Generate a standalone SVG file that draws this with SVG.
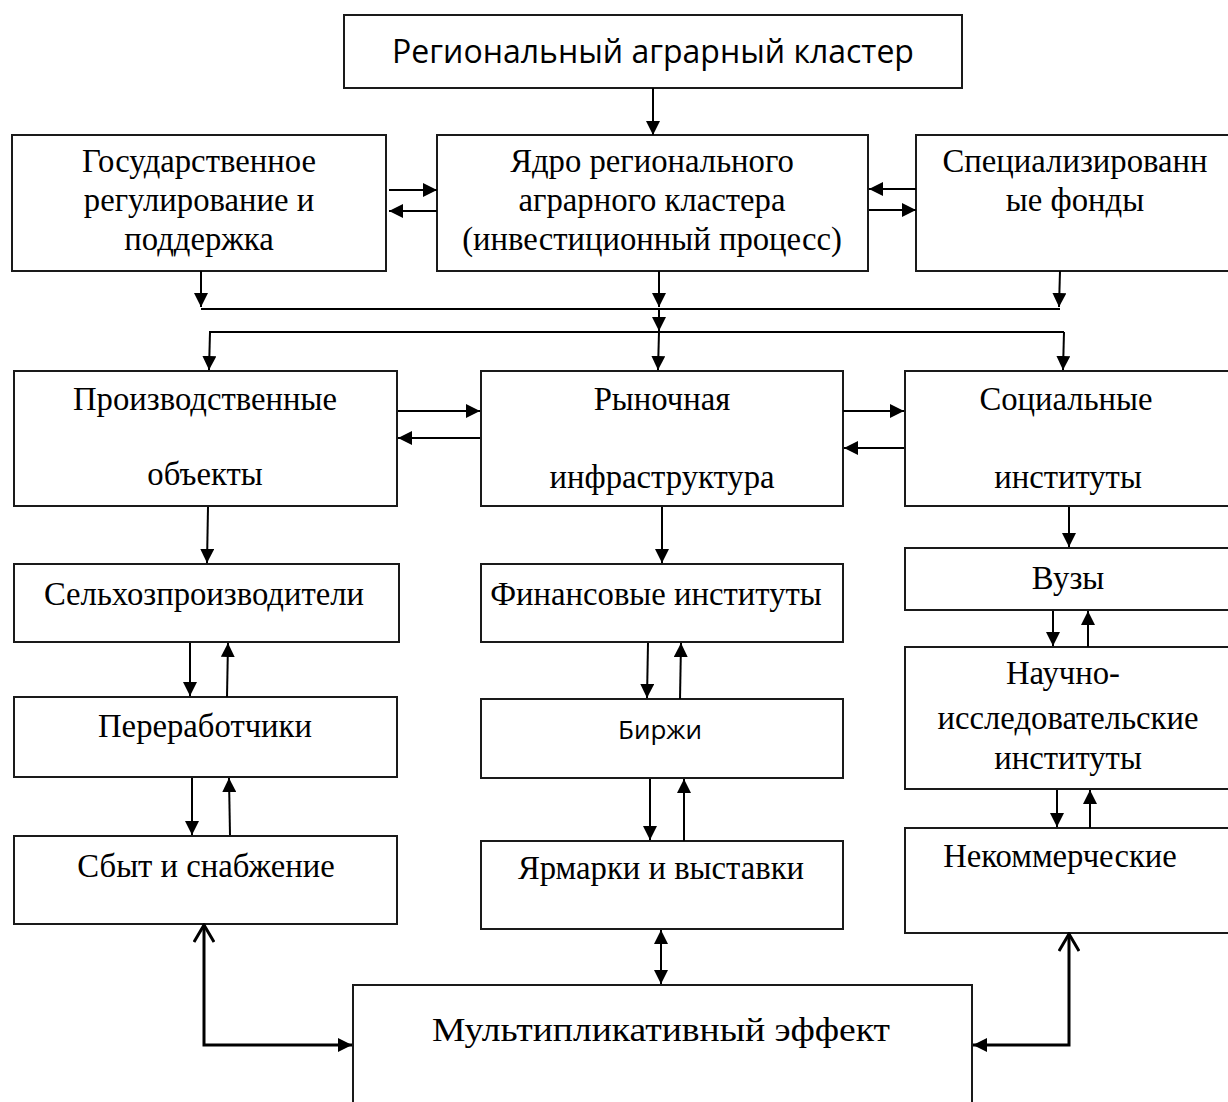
<svg xmlns="http://www.w3.org/2000/svg" width="1228" height="1102" viewBox="0 0 1228 1102">
<defs>
<style>
.box{fill:#fff;stroke:#1a1a1a;stroke-width:2}
.t{font-family:"Liberation Serif","Times New Roman",serif;font-size:32.7px;fill:#000;text-anchor:middle}
.s{font-family:"Open Sans","Liberation Sans",sans-serif;fill:#000;text-anchor:middle}
.c{fill:none;stroke:#000;stroke-width:2}
.ct{fill:none;stroke:#000;stroke-width:3}
</style>
<marker id="a" markerUnits="userSpaceOnUse" markerWidth="14" markerHeight="14" viewBox="0 0 14 14" refX="14" refY="7" orient="auto"><path d="M0,0 L14,7 L0,14 Z" fill="#000"/></marker>
<marker id="as" markerUnits="userSpaceOnUse" markerWidth="14" markerHeight="14" viewBox="0 0 14 14" refX="14" refY="7" orient="auto-start-reverse"><path d="M0,0 L14,7 L0,14 Z" fill="#000"/></marker>
<marker id="o" markerUnits="userSpaceOnUse" markerWidth="20" markerHeight="22" viewBox="0 0 20 22" refX="18" refY="11" orient="auto-start-reverse"><path d="M1,1 L18,11 L1,21" fill="none" stroke="#000" stroke-width="3"/></marker>
</defs>
<rect width="1228" height="1102" fill="#fff"/>

<g id="n-cluster"><rect class="box" x="344" y="15" width="618" height="73"/><text class="s" x="653" y="63" font-size="32">Региональный аграрный кластер</text></g>
<g id="n-gos"><rect class="box" x="12" y="135" width="374" height="136"/><text class="t" x="199" y="172">Государственное</text><text class="t" x="199" y="211">регулирование и</text><text class="t" x="199" y="250">поддержка</text></g>
<g id="n-core"><rect class="box" x="437" y="135" width="431" height="136"/><text class="t" x="652" y="172">Ядро регионального</text><text class="t" x="652" y="211">аграрного кластера</text><text class="t" x="652" y="250">(инвестиционный процесс)</text></g>
<g id="n-funds"><rect class="box" x="916" y="135" width="330" height="136"/><text class="t" x="1075" y="172">Специализированн</text><text class="t" x="1075" y="211">ые фонды</text></g>

<g id="n-prod"><rect class="box" x="14" y="371" width="383" height="135"/><text class="t" x="205" y="410">Производственные</text><text class="t" x="205" y="485">объекты</text></g>
<g id="n-market"><rect class="box" x="481" y="371" width="362" height="135"/><text class="t" x="662" y="410">Рыночная</text><text class="t" x="662" y="488">инфраструктура</text></g>
<g id="n-social"><rect class="box" x="905" y="371" width="340" height="135"/><text class="t" x="1066" y="410">Социальные</text><text class="t" x="1068" y="488">институты</text></g>

<g id="n-sel"><rect class="box" x="14" y="564" width="385" height="78"/><text class="t" x="204" y="605">Сельхозпроизводители</text></g>
<g id="n-fin"><rect class="box" x="481" y="564" width="362" height="78"/><text class="t" x="656" y="605">Финансовые институты</text></g>
<g id="n-vuz"><rect class="box" x="905" y="548" width="340" height="62"/><text class="t" x="1068" y="589">Вузы</text></g>

<g id="n-pererab"><rect class="box" x="14" y="697" width="383" height="80"/><text class="t" x="205" y="737">Переработчики</text></g>
<g id="n-birzhi"><rect class="box" x="481" y="699" width="362" height="79"/><text class="s" x="660" y="739" font-size="26">Биржи</text></g>
<g id="n-nii"><rect class="box" x="905" y="647" width="340" height="142"/><text class="t" x="1063" y="684">Научно-</text><text class="t" x="1068" y="729">исследовательские</text><text class="t" x="1068" y="769">институты</text></g>

<g id="n-sbyt"><rect class="box" x="14" y="836" width="383" height="88"/><text class="t" x="206" y="877">Сбыт и снабжение</text></g>
<g id="n-yarm"><rect class="box" x="481" y="841" width="362" height="88"/><text class="t" x="661" y="879">Ярмарки и выставки</text></g>
<g id="n-nekom"><rect class="box" x="905" y="828" width="340" height="105"/><text class="t" x="1060" y="867">Некоммерческие</text></g>

<g id="n-mult"><rect class="box" x="353" y="985" width="619" height="140"/><text class="t" x="661" y="1041" font-size="46" textLength="458" lengthAdjust="spacingAndGlyphs">Мультипликативный эффект</text></g>

<g id="connectors">
<line class="c" x1="653" y1="88" x2="653" y2="135" marker-end="url(#a)"/>
<line class="c" x1="389" y1="190" x2="437" y2="190" marker-end="url(#a)"/>
<line class="c" x1="437" y1="211" x2="389" y2="211" marker-end="url(#a)"/>
<line class="c" x1="916" y1="189" x2="869" y2="189" marker-end="url(#a)"/>
<line class="c" x1="869" y1="210" x2="916" y2="210" marker-end="url(#a)"/>
<line class="c" x1="201" y1="271" x2="201" y2="307" marker-end="url(#a)"/>
<line class="c" x1="659" y1="271" x2="659" y2="307" marker-end="url(#a)"/>
<line class="c" x1="1060" y1="271" x2="1059" y2="307" marker-end="url(#a)"/>
<line class="c" x1="201" y1="309" x2="1060" y2="309"/>
<line class="c" x1="659" y1="309" x2="659" y2="331" marker-end="url(#a)"/>
<line class="c" x1="209" y1="332" x2="1064" y2="332"/>
<line class="c" x1="210" y1="332" x2="209" y2="370" marker-end="url(#a)"/>
<line class="c" x1="659" y1="332" x2="658" y2="370" marker-end="url(#a)"/>
<line class="c" x1="1064" y1="332" x2="1063" y2="370" marker-end="url(#a)"/>
<line class="c" x1="398" y1="411" x2="480" y2="411" marker-end="url(#a)"/>
<line class="c" x1="480" y1="438" x2="398" y2="438" marker-end="url(#a)"/>
<line class="c" x1="843" y1="411" x2="904" y2="411" marker-end="url(#a)"/>
<line class="c" x1="904" y1="448" x2="844" y2="448" marker-end="url(#a)"/>
<line class="c" x1="208" y1="507" x2="207" y2="563" marker-end="url(#a)"/>
<line class="c" x1="662" y1="507" x2="662" y2="563" marker-end="url(#a)"/>
<line class="c" x1="1069" y1="507" x2="1069" y2="547" marker-end="url(#a)"/>
<line class="c" x1="190" y1="643" x2="190" y2="696" marker-end="url(#a)"/>
<line class="c" x1="227" y1="697" x2="228" y2="643" marker-end="url(#a)"/>
<line class="c" x1="648" y1="643" x2="647" y2="698" marker-end="url(#a)"/>
<line class="c" x1="680" y1="699" x2="681" y2="643" marker-end="url(#a)"/>
<line class="c" x1="1053" y1="611" x2="1053" y2="646" marker-end="url(#a)"/>
<line class="c" x1="1088" y1="647" x2="1088" y2="611" marker-end="url(#a)"/>
<line class="c" x1="192" y1="778" x2="192" y2="835" marker-end="url(#a)"/>
<line class="c" x1="230" y1="835" x2="229" y2="778" marker-end="url(#a)"/>
<line class="c" x1="650" y1="779" x2="650" y2="840" marker-end="url(#a)"/>
<line class="c" x1="684" y1="841" x2="684" y2="779" marker-end="url(#a)"/>
<line class="c" x1="1057" y1="790" x2="1057" y2="827" marker-end="url(#a)"/>
<line class="c" x1="1090" y1="828" x2="1090" y2="790" marker-end="url(#a)"/>
<line class="c" x1="661" y1="930" x2="661" y2="984" marker-start="url(#as)" marker-end="url(#as)"/>
<polyline class="ct" points="204,925 204,1045 352,1045" marker-start="url(#o)" marker-end="url(#a)"/>
<polyline class="ct" points="1069,934 1069,1045 973,1045" marker-start="url(#o)" marker-end="url(#a)"/>
</g>
</svg>
